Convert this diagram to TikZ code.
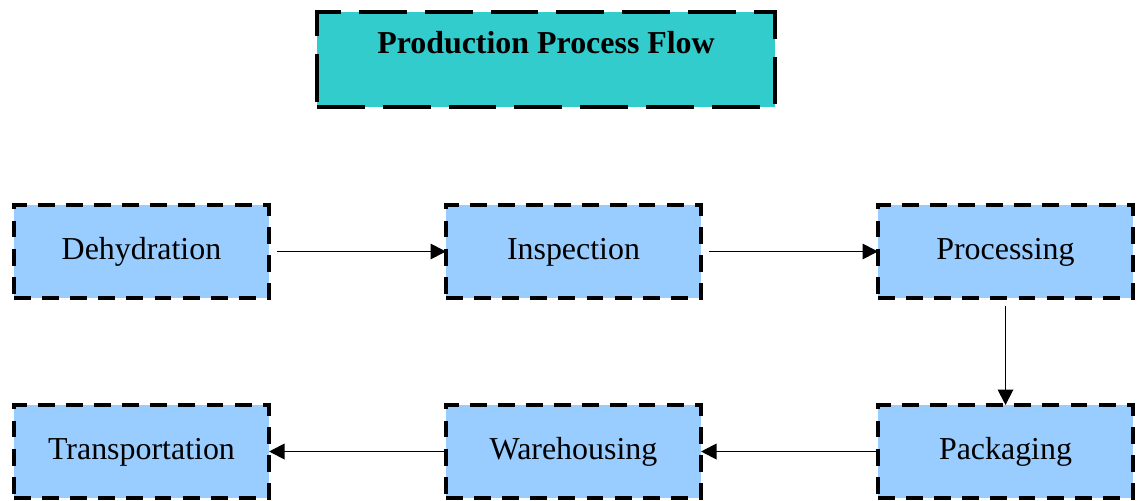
\documentclass[tikz,border=0pt]{standalone}
\usepackage{fontspec}
\setmainfont{Liberation Serif}
\usetikzlibrary{arrows.meta,positioning}
\definecolor{headcyan}{RGB}{51,204,204}
\definecolor{stageblue}{RGB}{153,204,255}

\begin{document}
\begin{tikzpicture}[x=0.025cm, y=-0.025cm,
    heading/.style={draw, line width=2.8pt, dash pattern=on 34pt off 12.8pt, fill=headcyan,
      minimum width=11.45cm, minimum height=2.375cm, outer sep=0pt,
      font=\fontsize{22.7}{27}\selectfont\bfseries, text height=16pt, text depth=24pt},
    stage/.style={draw, line width=2.8pt, dash pattern=on 12pt off 8pt, fill=stageblue,
      minimum width=6.375cm, minimum height=2.325cm, outer sep=0pt,
      font=\fontsize{22.7}{27}\selectfont, text height=16pt, text depth=5pt},
    flow/.style={-{Triangle[length=11pt, width=11pt]}, line width=1.4pt}
  ]
    \useasboundingbox (0,0) rectangle (1137,500);

    \node[heading] (title) at (546,59.5) {Production Process Flow};

    \node[stage] (dehy) at (141.5,251.5) {Dehydration};
    \node[stage] (insp) at (573.5,251.5) {Inspection};
    \node[stage] (proc) at (1005.5,251.5) {Processing};

    \node[stage] (trans) at (141.5,451.5) {Transportation};
    \node[stage] (ware) at (573.5,451.5) {Warehousing};
    \node[stage] (pack) at (1005.5,451.5) {Packaging};

    \draw[flow, shorten <=0.2cm] (dehy) -- (insp);
    \draw[flow, shorten <=0.2cm] (insp) -- (proc);
    \draw[flow, shorten <=0.2cm] (proc) -- (pack);
    \draw[flow] (pack) -- (ware);
    \draw[flow] (ware) -- (trans);
  \end{tikzpicture}
\end{document}
